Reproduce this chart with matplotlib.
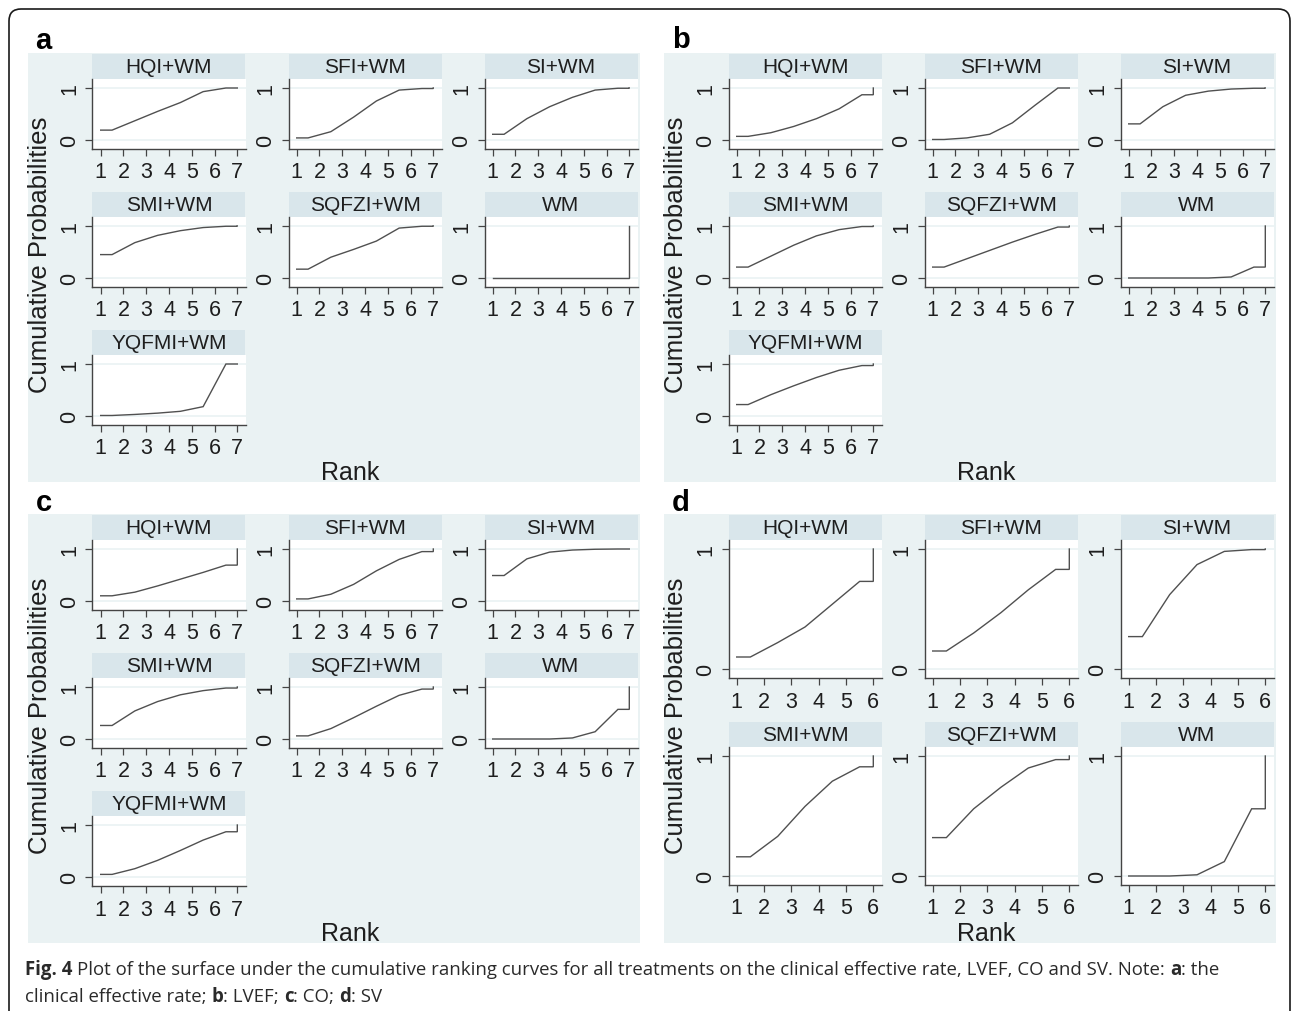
import matplotlib
matplotlib.use("Agg")
import matplotlib.pyplot as plt
from matplotlib.patches import Rectangle, FancyBboxPatch
from matplotlib.transforms import IdentityTransform
from matplotlib.font_manager import FontProperties, fontManager

plt.rcParams['font.family'] = ['Liberation Sans', 'DejaVu Sans']

treatments = ["HQI+WM", "SFI+WM", "SI+WM", "SMI+WM", "SQFZI+WM", "WM", "YQFMI+WM"]
ranks_7 = [1, 2, 3, 4, 5, 6, 7]
ranks_6 = [1, 2, 3, 4, 5, 6]

# cumulative probability of being within rank 1 .. n-1 (rank n is always 1)
cum_a = [
    [0.19, 0.37, 0.55, 0.72, 0.93, 1.00],
    [0.04, 0.16, 0.44, 0.75, 0.96, 0.99],
    [0.11, 0.41, 0.64, 0.82, 0.96, 0.995],
    [0.45, 0.68, 0.82, 0.91, 0.97, 0.995],
    [0.17, 0.40, 0.55, 0.71, 0.96, 0.995],
    [0.00, 0.00, 0.00, 0.00, 0.00, 0.00],
    [0.01, 0.03, 0.055, 0.09, 0.18, 1.00],
]
cum_b = [
    [0.07, 0.14, 0.26, 0.41, 0.60, 0.87],
    [0.01, 0.04, 0.11, 0.33, 0.67, 1.00],
    [0.31, 0.64, 0.86, 0.94, 0.98, 0.995],
    [0.21, 0.42, 0.63, 0.81, 0.93, 0.99],
    [0.21, 0.37, 0.53, 0.69, 0.84, 0.98],
    [0.00, 0.00, 0.00, 0.00, 0.02, 0.21],
    [0.22, 0.41, 0.58, 0.74, 0.88, 0.97],
]
cum_c = [
    [0.10, 0.17, 0.29, 0.42, 0.55, 0.69],
    [0.04, 0.13, 0.32, 0.58, 0.80, 0.95],
    [0.49, 0.81, 0.94, 0.98, 0.995, 1.00],
    [0.26, 0.54, 0.72, 0.85, 0.93, 0.98],
    [0.06, 0.20, 0.41, 0.63, 0.84, 0.96],
    [0.00, 0.00, 0.00, 0.02, 0.14, 0.57],
    [0.05, 0.16, 0.32, 0.51, 0.71, 0.87],
]
cum_d = [
    [0.10, 0.22, 0.35, 0.54, 0.73],
    [0.15, 0.30, 0.47, 0.66, 0.83],
    [0.27, 0.62, 0.87, 0.98, 0.995],
    [0.16, 0.33, 0.58, 0.79, 0.91],
    [0.32, 0.56, 0.74, 0.90, 0.97],
    [0.00, 0.00, 0.01, 0.12, 0.56],
]

caption_1 = [("Fig. 4", True),
             (" Plot of the surface under the cumulative ranking curves for all treatments "
              "on the clinical effective rate, LVEF, CO and SV. Note: ", False),
             ("a", True), (": the", False)]
caption_2 = [("clinical effective rate; ", False), ("b", True), (": LVEF; ", False),
             ("c", True), (": CO; ", False), ("d", True), (": SV", False)]

W, H = 1292, 1012
BG = "#eaf2f3"
STRIP = "#d9e6eb"
AXC = "#444444"
LINEC = "#505050"
TXT = "#1e1e1e"

fig = plt.figure(figsize=(W / 100, H / 100), dpi=100)


def frac(left, top, w, h):
    return [left / W, 1 - (top + h) / H, w / W, h / H]


def sucra_plot(left, top, w, strip_h, ax_h, name, cum, ranks):
    x0, y0, fw, fh = frac(left, top, w, strip_h)
    fig.patches.append(Rectangle((x0, y0), fw, fh, transform=fig.transFigure,
                                 facecolor=STRIP, edgecolor="none", zorder=-1))
    fig.text(x0 + fw / 2, y0 + fh / 2, name, ha="center", va="center",
             fontsize=15, color=TXT)

    ax = fig.add_axes(frac(left, top + strip_h, w, ax_h))
    n = len(ranks)
    xs = [1] + [r + 0.5 for r in ranks[:-1]] + [n, n]
    ys = [cum[0]] + list(cum) + [cum[-1], 1]
    ax.axhline(0, color=BG, lw=1.2, zorder=0)
    ax.axhline(1, color=BG, lw=1.2, zorder=0)
    ax.plot(xs, ys, color=LINEC, lw=1.0, solid_joinstyle="miter")
    pad = 0.06 * (n - 1)
    ax.set_xlim(1 - pad, n + pad)
    m = 9 / (ax_h - 18)
    ax.set_ylim(-m, 1 + m)
    ax.set_xticks(ranks)
    ax.set_yticks([0, 1])
    for s in ("top", "right"):
        ax.spines[s].set_visible(False)
    for s in ("left", "bottom"):
        ax.spines[s].set_color(AXC)
        ax.spines[s].set_linewidth(1.0)
    ax.tick_params(direction="out", length=5, width=0.9, color=AXC,
                   labelsize=15.5, labelcolor=TXT)
    ax.tick_params(axis="x", pad=4)
    ax.tick_params(axis="y", labelrotation=90, pad=4)
    for lab in ax.get_yticklabels():
        lab.set_va("center")
    return ax


panels = [("a", 28, 54, cum_a, ranks_7, (35, 49)),
          ("b", 664, 54, cum_b, ranks_7, (672, 48)),
          ("c", 28, 515, cum_c, ranks_7, (36, 511)),
          ("d", 664, 515, cum_d, ranks_6, (672, 511))]

cols = [64.5, 260.5, 456.5]
for letter, pl, pt, cum, ranks, lab_xy in panels:
    fig.patches.append(Rectangle(frac(pl, pt, 612, 429)[:2], 612 / W, 429 / H,
                                 transform=fig.transFigure, facecolor=BG,
                                 edgecolor="none", zorder=-2))
    fig.text(lab_xy[0] / W, 1 - lab_xy[1] / H, letter, fontsize=21,
             fontweight="bold", ha="left", va="baseline", color="black")
    if len(ranks) == 7:
        rows, ax_h = [1, 139, 277], 70
    else:
        rows, ax_h = [1, 208], 138
    for i, name in enumerate(treatments[:len(cum)]):
        r, c = divmod(i, 3)
        sucra_plot(pl + cols[c], pt + rows[r], 153, 25, ax_h, name, cum[i], ranks)
    fig.text((pl + 322) / W, 1 - (pt + 419) / H, "Rank", ha="center", va="center",
             fontsize=18, color=TXT)
    fig.text((pl + 12) / W, 1 - (pt + 201) / H, "Cumulative Probabilities",
             rotation=90, ha="center", va="center", fontsize=18.5, color=TXT)

# outer rounded frame
fig.patches.append(FancyBboxPatch((9, -20), 1281, H - 10 + 20,
                                  boxstyle="round,pad=0,rounding_size=12",
                                  transform=IdentityTransform(), fill=False,
                                  edgecolor="#1a1a1a", lw=1.2, zorder=5))

# caption with mixed bold runs
installed = {f.name for f in fontManager.ttflist}
cap_family = "Liberation Sans Narrow" if "Liberation Sans Narrow" in installed else "Open Sans"
renderer = fig.canvas.get_renderer()


def text_w(s, size, bold):
    fp = FontProperties(family=cap_family, size=size, weight="bold" if bold else "normal")
    return renderer.get_text_width_height_descent(s, fp, ismath=False)[0]


def space_w(size, bold):
    return text_w("a a", size, bold) - text_w("aa", size, bold)


def runs_width(runs, size):
    total = 0
    for s, bold in runs:
        core = s.strip(" ")
        total += (len(s) - len(core)) * space_w(size, bold) + text_w(core, size, bold)
    return total


def draw_runs(x, y, runs, size):
    for s, bold in runs:
        lead = len(s) - len(s.lstrip(" "))
        trail = len(s) - len(s.rstrip(" "))
        core = s.strip(" ")
        x += lead * space_w(size, bold)
        fig.text(x / W, 1 - y / H, core, family=cap_family, fontsize=size,
                 fontweight="bold" if bold else "normal", ha="left",
                 va="baseline", color="#2a2a2a")
        x += text_w(core, size, bold) + trail * space_w(size, bold)


cap_size = 10 * 1192 / runs_width(caption_1, 10)
draw_runs(25, 975, caption_1, cap_size)
draw_runs(25, 1002, caption_2, cap_size)

fig.savefig("out.png", dpi=100)
